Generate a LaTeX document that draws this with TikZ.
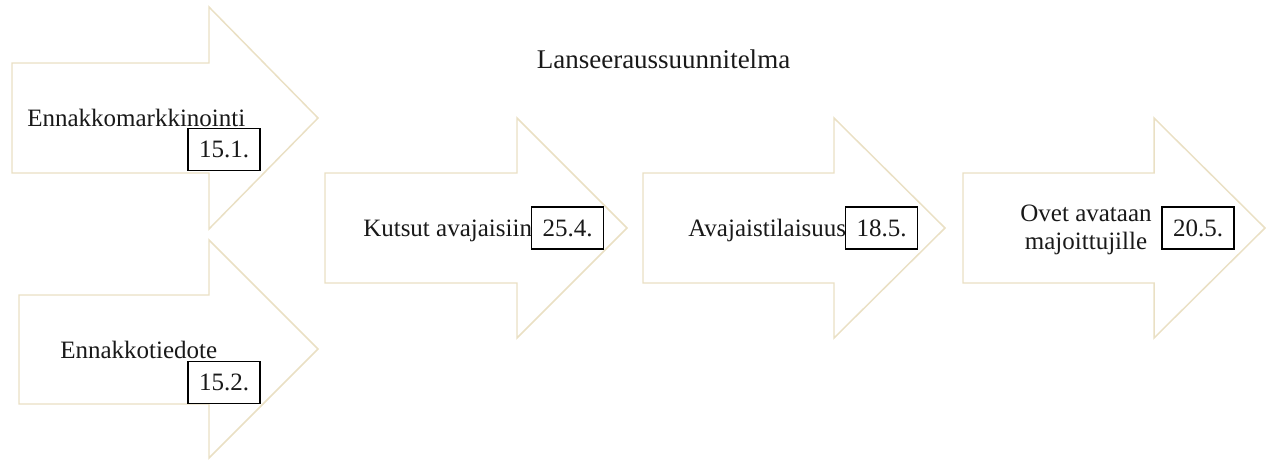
\documentclass[tikz,border=0pt]{standalone}
\usepackage{fontspec}
\setmainfont{Liberation Serif}
\definecolor{arrowline}{HTML}{EAE0C4}
\begin{document}
\begin{tikzpicture}[x=0.75pt,y=-0.75pt,
  bigarrow/.style={draw=arrowline,line width=1.1pt,fill=white,line join=miter},
  label/.style={inner sep=0pt,font=\fontsize{18.75pt}{20.25pt}\selectfont,text=black!90},
  datebox/.style={draw=black,line width=0.8pt,fill=white,minimum width=54pt,minimum height=31.5pt,
    inner sep=0pt,font=\fontsize{18.75pt}{20.25pt}\selectfont,text=black!90}]
\useasboundingbox (0,0) rectangle (1266,461);

% block arrows of the plan
\draw[bigarrow] (12,63) -- (209,63) -- (209,7) -- (318,118) -- (209,229) -- (209,173) -- (12,173) -- cycle;
\draw[bigarrow] (19,295) -- (209,295) -- (209,240) -- (318,349) -- (209,458) -- (209,404) -- (19,404) -- cycle;
\draw[bigarrow] (325,173) -- (517,173) -- (517,118) -- (627,228) -- (517,338) -- (517,283) -- (325,283) -- cycle;
\draw[bigarrow] (643,173) -- (834,173) -- (834,118) -- (945,228) -- (834,338) -- (834,283) -- (643,283) -- cycle;
\draw[bigarrow] (963,173) -- (1154,173) -- (1154,118) -- (1265,228) -- (1154,338) -- (1154,283) -- (963,283) -- cycle;

% title
\node[label,anchor=base,font=\fontsize{20.25pt}{22pt}\selectfont] (title) at (663.5,68) {Lanseeraussuunnitelma};

% step texts
\node[label,anchor=base west] (t1) at (27,126) {Ennakkomarkkinointi};
\node[label,anchor=base west] (t2) at (60,358) {Ennakkotiedote};
\node[label,anchor=base west] (t3) at (363,236) {Kutsut avajaisiin};
\node[label,anchor=base west] (t4) at (688,236) {Avajaistilaisuus};
\node[label,align=center,anchor=base] (t5) at (1086,249) {Ovet avataan\\[0.5pt]majoittujille};

% dates
\node[datebox] (d1) at (224,149.5) {15.1.};
\node[datebox] (d2) at (224,382.5) {15.2.};
\node[datebox] (d3) at (567.5,228) {25.4.};
\node[datebox] (d4) at (881.5,228) {18.5.};
\node[datebox] (d5) at (1198,228) {20.5.};
\end{tikzpicture}
\end{document}
